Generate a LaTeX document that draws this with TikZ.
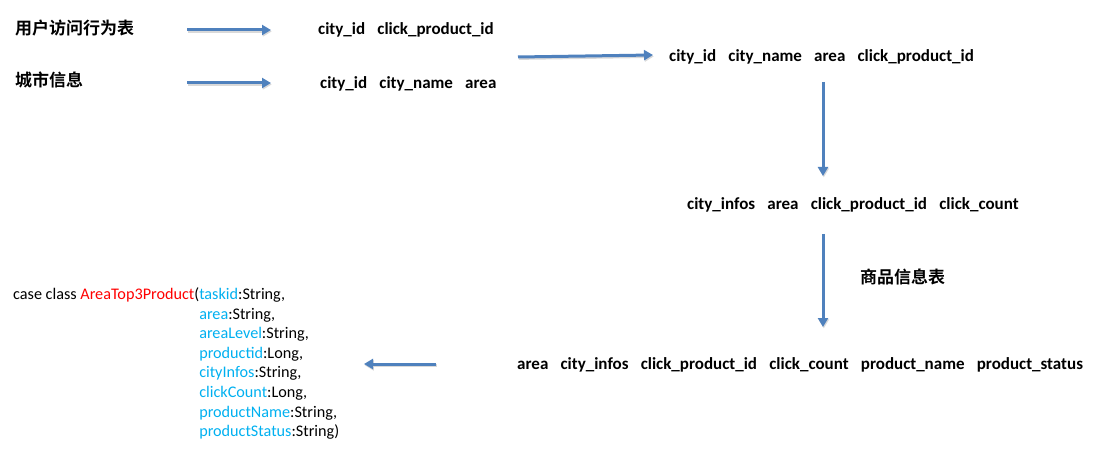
\documentclass[tikz,border=0pt]{standalone}
\usepackage{fontspec}
\setmainfont{Carlito}
\newfontfamily\cjk{Noto Sans CJK SC}[BoldFont={* Bold}]
\usetikzlibrary{arrows.meta}
\definecolor{arrowblue}{RGB}{79,129,189}
\definecolor{fieldblue}{RGB}{0,176,240}
\definecolor{classred}{RGB}{255,0,0}
\tikzset{
  flow/.style={draw=arrowblue, line width=3pt, -{Triangle[length=9pt,width=10pt]},
    preaction={draw=black!15, line width=3pt, -{Triangle[length=9pt,width=10pt]}, transform canvas={xshift=0.8pt,yshift=-1.4pt}}},
  fields/.style={anchor=west, inner sep=0pt, font=\fontsize{17}{19}\selectfont\bfseries},
  cn/.style={anchor=west, inner sep=0pt, font=\fontsize{17}{19}\selectfont\cjk\bfseries},
  code/.style={anchor=north west, inner sep=0pt, align=left, font=\fontsize{16.2}{19.6}\selectfont}
}
\newcommand{\gp}{\hspace*{12.2pt}}
\newcommand{\fb}[1]{\textcolor{fieldblue}{#1}}
\begin{document}
\begin{tikzpicture}[x=1pt,y=-1pt]
\useasboundingbox (0,0) rectangle (1095,449);
\node[cn] (t1) at (15,28) {用户访问行为表};
\node[cn] (t2) at (15,80) {城市信息};
\node[fields] (f1) at (318,29.5) {city\_id\gp click\_product\_id};
\node[fields] (f2) at (320,83.5) {city\_id\gp city\_name\gp area};
\node[fields] (f3) at (669,56.5) {city\_id\gp city\_name\gp area\gp click\_product\_id};
\node[fields] (f4) at (687,204.5) {city\_infos\gp area\gp click\_product\_id\gp click\_count};
\node[cn] (t3) at (860,277) {商品信息表};
\node[fields] (f5) at (517,364.5) {area\gp city\_infos\gp click\_product\_id\gp click\_count\gp product\_name\gp product\_status};
\node[code] (c) at (13,287.5) {case class \textcolor{classred}{AreaTop3Product}(\fb{taskid}:String,\\
\hphantom{case class AreaTop3Product(}\fb{area}:String,\\
\hphantom{case class AreaTop3Product(}\fb{areaLevel}:String,\\
\hphantom{case class AreaTop3Product(}\fb{productid}:Long,\\
\hphantom{case class AreaTop3Product(}\fb{cityInfos}:String,\\
\hphantom{case class AreaTop3Product(}\fb{clickCount}:Long,\\
\hphantom{case class AreaTop3Product(}\fb{productName}:String,\\
\hphantom{case class AreaTop3Product(}\fb{productStatus}:String)};
\coordinate (a1s) at (187,30); \coordinate (a1e) at (271,30);
\coordinate (a2s) at (187,83); \coordinate (a2e) at (271,83);
\coordinate (a3s) at (518,57); \coordinate (a3e) at (653,55);
\coordinate (a4s) at (823,82); \coordinate (a4e) at (823,176);
\coordinate (a5s) at (823,234); \coordinate (a5e) at (823,327);
\coordinate (a6s) at (436,364); \coordinate (a6e) at (364,364);
\draw[flow] (a1s) -- (a1e);
\draw[flow] (a2s) -- (a2e);
\draw[flow] (a3s) -- (a3e);
\draw[flow] (a4s) -- (a4e);
\draw[flow] (a5s) -- (a5e);
\draw[flow] (a6s) -- (a6e);
\end{tikzpicture}
\end{document}
